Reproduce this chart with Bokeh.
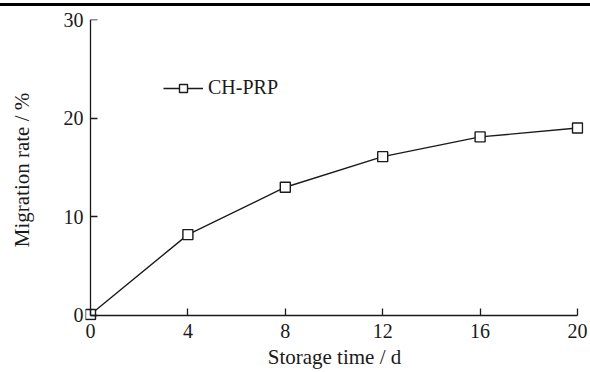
from bokeh.plotting import figure
from bokeh.models import (Range1d, FixedTicker, Div, Legend, LegendItem, LinearAxis,
                          CustomLabelingPolicy)
from bokeh.layouts import column
from bokeh.embed import file_html
from bokeh.resources import INLINE

# ---- data ----
storage_days = [0, 4, 8, 12, 16, 20]
migration_rate = [0.1, 8.2, 13.0, 16.1, 18.1, 19.0]
x_ticks = [0, 4, 8, 12, 16, 20]
y_ticks = [0, 10, 20, 30]
series_name = "CH-PRP"
x_title = "Storage time / d"
y_title = "Migration rate / %"

FONT = "Liberation Serif"
INK = "#1a1a1a"

p = figure(width=590, height=366, output_backend="svg", toolbar_location=None,
           x_range=Range1d(-0.205, 20.246), y_range=Range1d(-0.507, 30),
           min_border_left=85, min_border_right=7, min_border_top=13,
           min_border_bottom=52)
p.grid.visible = False
p.outline_line_color = None
p.background_fill_color = "white"
p.border_fill_color = "white"

ln = p.line(storage_days, migration_rate, line_color=INK, line_width=1.4)
pts = p.scatter(storage_days, migration_rate, marker="square", size=10,
                fill_color="white", line_color=INK, line_width=1.4)

legend = Legend(items=[LegendItem(label=series_name, renderers=[ln, pts])],
                location=(78, 221), padding=0, margin=0, spacing=0,
                glyph_width=40, glyph_height=20, label_standoff=5,
                label_text_font=FONT, label_text_font_size="20px",
                label_text_color=INK, background_fill_alpha=0,
                border_line_color=None)
p.add_layout(legend)

# label-only axes at the frame edges
xa = p.xaxis[0]
xa.ticker = FixedTicker(ticks=x_ticks)
xa.axis_label = x_title
xa.axis_label_standoff = 4
xa.major_label_standoff = 3

ya = p.yaxis[0]
ya.ticker = FixedTicker(ticks=y_ticks)
ya.axis_label = y_title
ya.axis_label_standoff = 27
ya.major_label_standoff = 2

for ax in (xa, ya):
    ax.axis_line_color = None
    ax.major_tick_line_color = None
    ax.minor_tick_line_color = None
    ax.major_tick_in = 0
    ax.major_tick_out = 0
    ax.minor_tick_in = 0
    ax.minor_tick_out = 0
    ax.major_label_text_font = FONT
    ax.major_label_text_font_size = "20px"
    ax.major_label_text_color = INK
    ax.axis_label_text_font = FONT
    ax.axis_label_text_font_size = "21px"
    ax.axis_label_text_font_style = "normal"
    ax.axis_label_text_color = INK

# axis lines + inward ticks crossing at the data origin (labels suppressed)
hide_all = CustomLabelingPolicy(code="return new Set();")
x_rule = LinearAxis(fixed_location=0, bounds=(x_ticks[0], x_ticks[-1]),
                    ticker=FixedTicker(ticks=x_ticks), major_label_policy=hide_all)
y_rule = LinearAxis(fixed_location=0, bounds=(y_ticks[0], y_ticks[-1]),
                    ticker=FixedTicker(ticks=y_ticks), major_label_policy=hide_all)
for ax in (x_rule, y_rule):
    ax.axis_line_color = INK
    ax.axis_line_width = 1.3
    ax.major_tick_line_color = INK
    ax.major_tick_line_width = 1.3
    ax.minor_tick_in = 0
    ax.minor_tick_out = 0
    ax.major_label_text_color = None
    ax.major_label_text_font_size = "1px"
    ax.major_label_standoff = 0
x_rule.major_tick_in = 0
x_rule.major_tick_out = 7   # "above" panel: out = upwards
y_rule.major_tick_in = 7    # "left" panel: in = rightwards
y_rule.major_tick_out = 0
p.add_layout(x_rule, "above")
p.add_layout(y_rule, "left")

top_rule = Div(text="", width=590, height=3, margin=(3, 0, 0, 0),
               styles={"background-color": "#000000"})

layout = column(top_rule, p, margin=0, spacing=0)
open("out.html", "w").write(file_html(layout, INLINE))
